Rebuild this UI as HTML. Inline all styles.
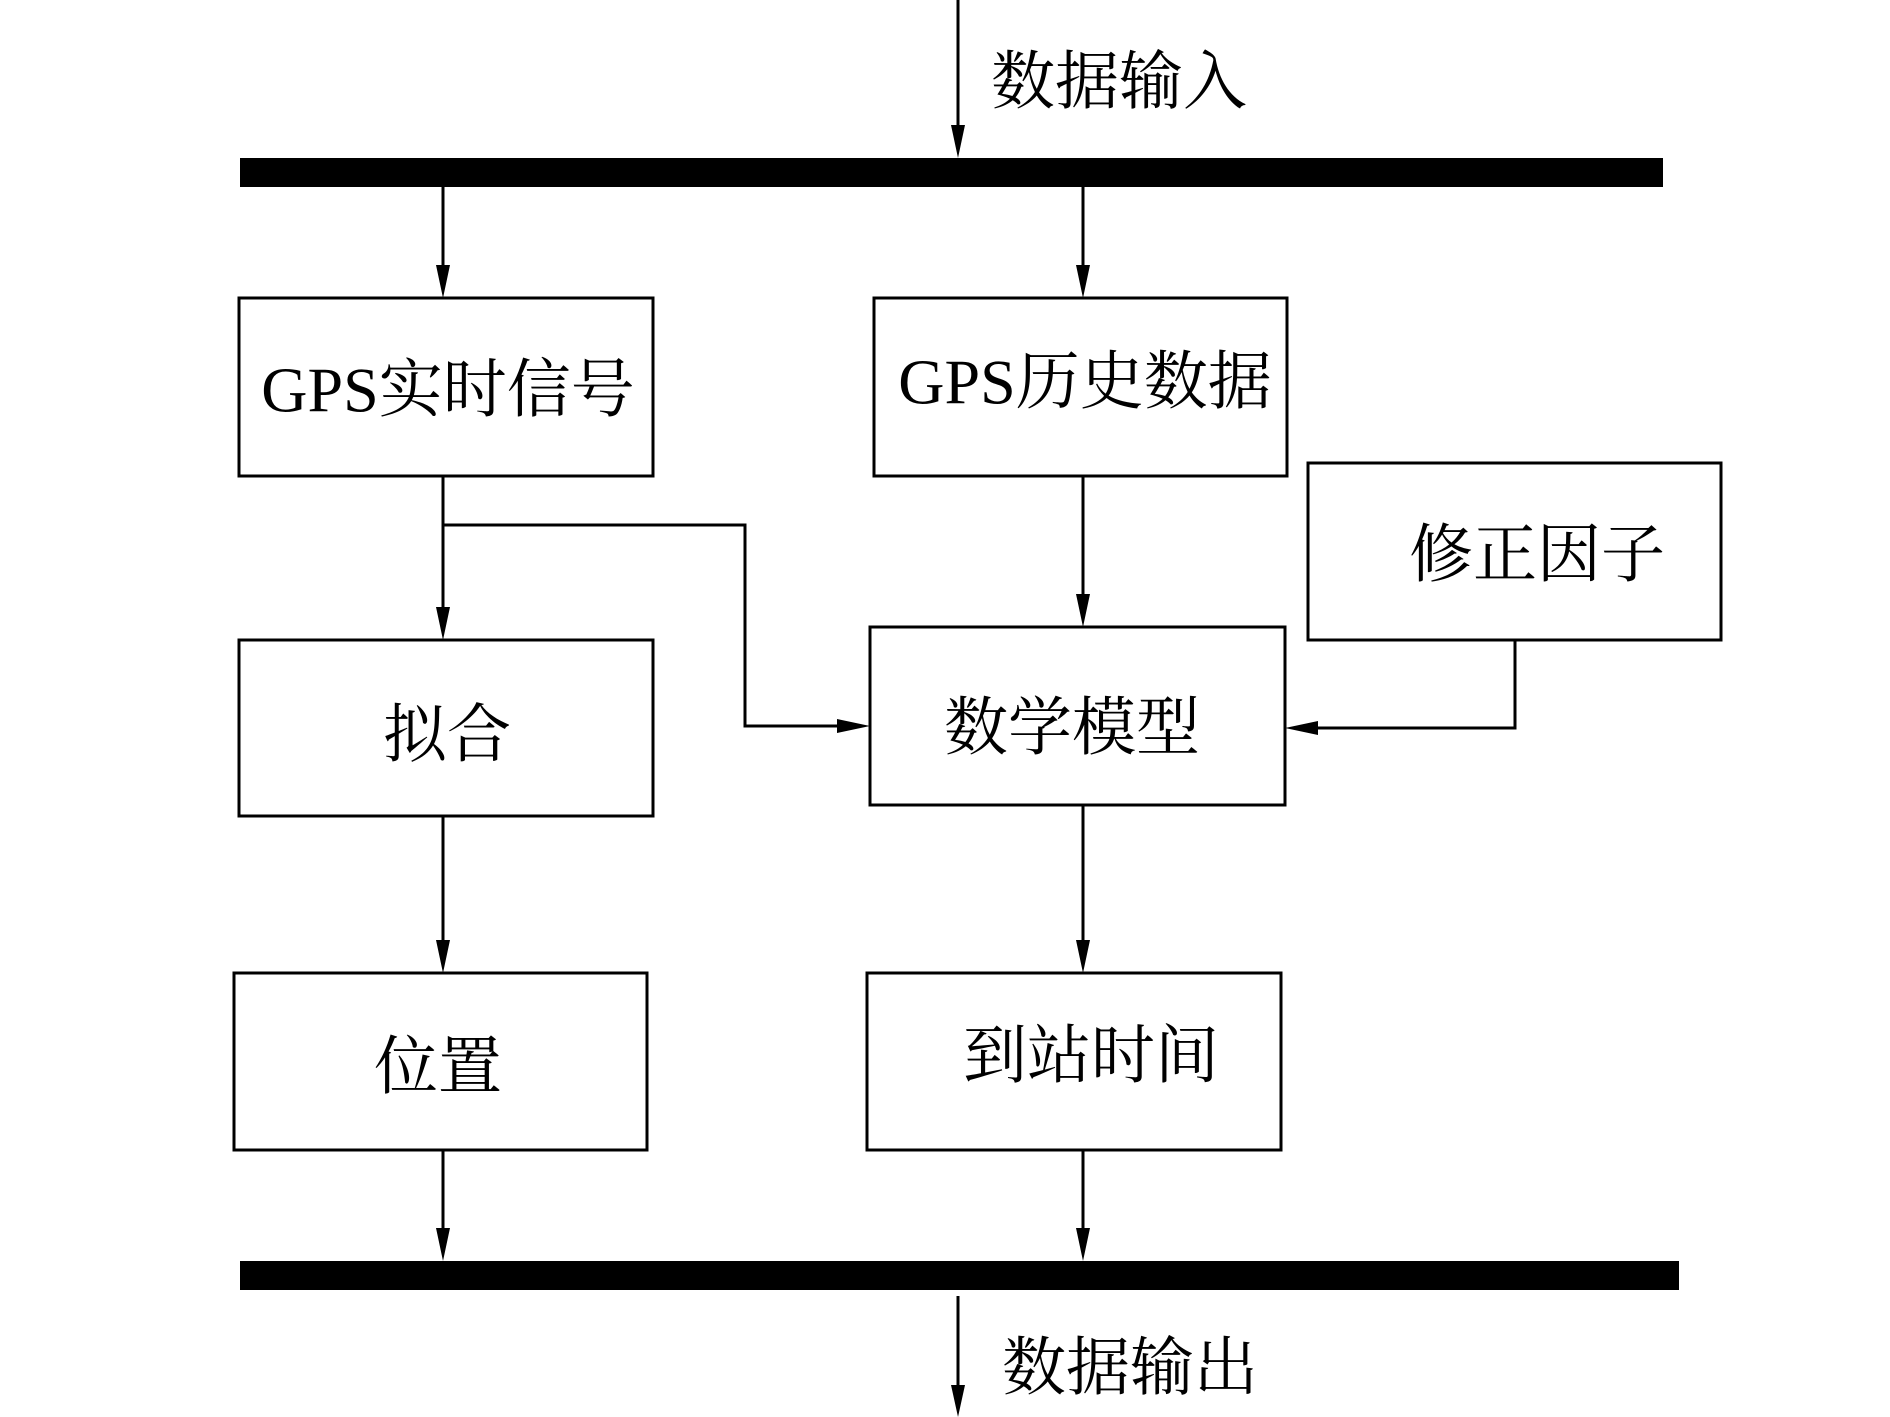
<!DOCTYPE html>
<html><head><meta charset="utf-8"><style>
html,body{margin:0;padding:0;background:#fff;}
svg{display:block;}
text{font-family:"Liberation Serif","Noto Serif CJK SC",serif;font-size:64px;fill:#000;}
</style></head><body>
<svg width="1890" height="1417" viewBox="0 0 1890 1417" xmlns="http://www.w3.org/2000/svg">
<defs>
<marker id="a" markerWidth="10" markerHeight="8" refX="10" refY="4" orient="auto" markerUnits="userSpaceOnUse" viewBox="0 0 10 8">
</marker>
</defs>
<g fill="#000">
<rect x="240" y="158" width="1423" height="29"/>
<rect x="240" y="1261" width="1439" height="29"/>
</g>
<g stroke="#000" stroke-width="3" fill="none">
<rect x="239" y="298" width="414" height="178"/>
<rect x="874" y="298" width="413" height="178"/>
<rect x="1308" y="463" width="413" height="177"/>
<rect x="239" y="640" width="414" height="176"/>
<rect x="870" y="627" width="415" height="178"/>
<rect x="234" y="973" width="413" height="177"/>
<rect x="867" y="973" width="414" height="177"/>
<!-- lines -->
<line x1="958" y1="0" x2="958" y2="130"/>
<line x1="443" y1="187" x2="443" y2="270"/>
<line x1="1083" y1="187" x2="1083" y2="270"/>
<line x1="443" y1="476" x2="443" y2="612"/>
<polyline points="443,525 745,525 745,726 842,726"/>
<line x1="1083" y1="476" x2="1083" y2="600"/>
<polyline points="1515,640 1515,728 1313,728"/>
<line x1="443" y1="816" x2="443" y2="945"/>
<line x1="1083" y1="805" x2="1083" y2="945"/>
<line x1="443" y1="1150" x2="443" y2="1233"/>
<line x1="1083" y1="1150" x2="1083" y2="1233"/>
<line x1="958" y1="1296" x2="958" y2="1390"/>
</g>
<g fill="#000">
<polygon points="951,125 965,125 958,158"/>
<polygon points="436,265 450,265 443,298"/>
<polygon points="1076,265 1090,265 1083,298"/>
<polygon points="436,607 450,607 443,640"/>
<polygon points="837,719 837,733 870,726"/>
<polygon points="1076,594 1090,594 1083,627"/>
<polygon points="1318,721 1318,735 1285,728"/>
<polygon points="436,940 450,940 443,973"/>
<polygon points="1076,940 1090,940 1083,973"/>
<polygon points="436,1228 450,1228 443,1261"/>
<polygon points="1076,1228 1090,1228 1083,1261"/>
<polygon points="951,1385 965,1385 958,1417"/>
</g>
<g dominant-baseline="central">
<text x="991" y="82">数据输入</text>
<text x="1002" y="1368">数据输出</text>
<text x="448" y="390" text-anchor="middle">GPS实时信号</text>
<text x="1085" y="382" text-anchor="middle">GPS历史数据</text>
<text x="1537" y="555" text-anchor="middle">修正因子</text>
<text x="447" y="735" text-anchor="middle">拟合</text>
<text x="1072" y="728" text-anchor="middle">数学模型</text>
<text x="438" y="1067" text-anchor="middle">位置</text>
<text x="1091" y="1056" text-anchor="middle">到站时间</text>
</g>
</svg>
</body></html>
